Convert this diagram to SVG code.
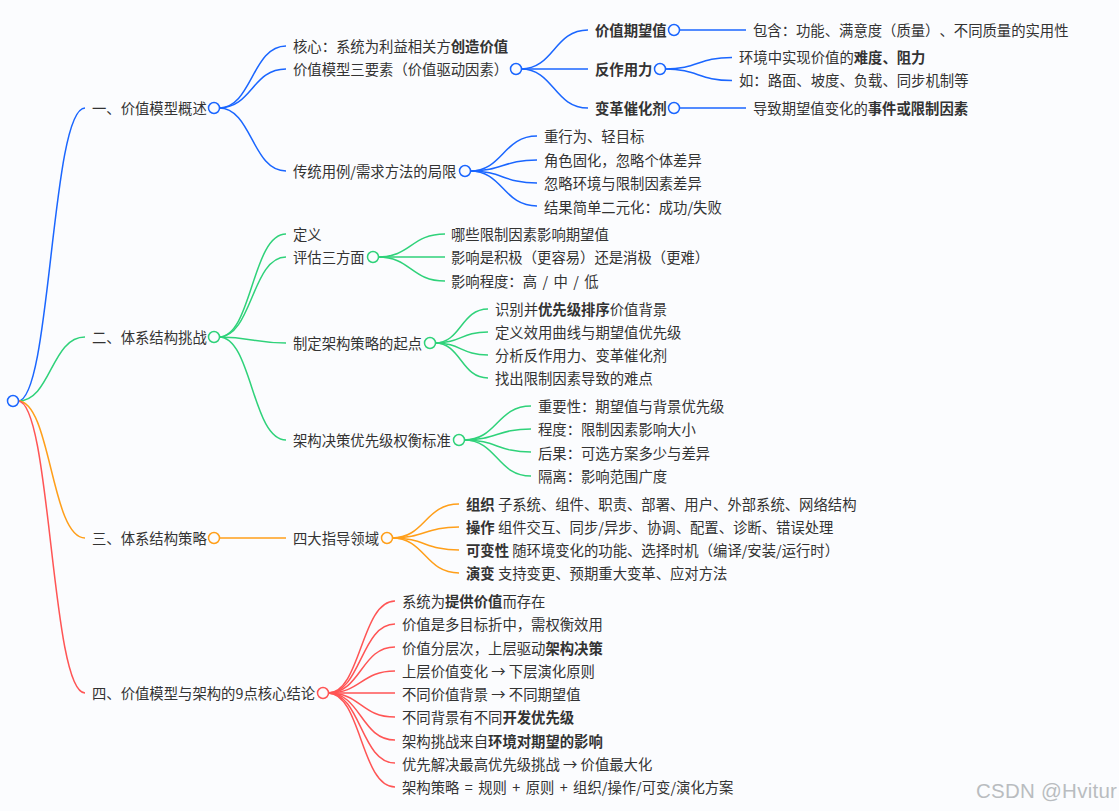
<svg xmlns="http://www.w3.org/2000/svg" width="1119" height="811" viewBox="0 0 1119 811">
<style>
text{font-family:"Noto Sans CJK SC","Liberation Sans",sans-serif;font-size:14.35px;fill:#333;text-spacing-trim:space-all;transform:translateY(.8px)}
tspan.b,text.b{font-weight:700}
text.ws{word-spacing:2.2px}
path{fill:none;stroke-width:1.5}
circle{fill:#fbfcfe;stroke-width:1.5}
.bl path,circle.bl{stroke:#1a66ff}
.gr path,circle.gr{stroke:#2fd27a}
.or path,circle.or{stroke:#ff9f1a}
.re path,circle.re{stroke:#ff5555}
text.wm{font-family:"Liberation Sans",sans-serif;font-size:20.5px;fill:#b9bcc0;letter-spacing:.25px;transform:none}
</style>
<rect width="1119" height="811" fill="#fbfcfe"/>
<g id="connectors">
<g class="bl">
<path d="M18 401C51 401 51 108 85 108"/>
<path d="M219 108C252 108 252 46 286 46"/>
<path d="M219 108C252 108 252 69 286 69"/>
<path d="M219 108C252 108 252 171 286 171"/>
<path d="M521 69C554 69 554 30 588 30"/>
<path d="M521 69H588"/>
<path d="M521 69C554 69 554 108 588 108"/>
<path d="M679 30H746"/>
<path d="M665 69C698 69 698 57.500 732 57.500"/>
<path d="M665 69C698 69 698 80.500 732 80.500"/>
<path d="M679 108H746"/>
<path d="M470 171C503 171 503 136 537 136"/>
<path d="M470 171C503 171 503 160 537 160"/>
<path d="M470 171C503 171 503 183 537 183"/>
<path d="M470 171C503 171 503 206 537 206"/>
</g>
<g class="gr">
<path d="M18 401C51 401 51 337 85 337"/>
<path d="M219 337C252 337 252 234 286 234"/>
<path d="M219 337C252 337 252 257 286 257"/>
<path d="M219 337C252 337 252 343 286 343"/>
<path d="M219 337C252 337 252 440 286 440"/>
<path d="M378 257C411 257 411 234 445 234"/>
<path d="M378 257H445"/>
<path d="M378 257C411 257 411 281 445 281"/>
<path d="M435 343C461 343 461 309 488 309"/>
<path d="M435 343C461 343 461 332 488 332"/>
<path d="M435 343C461 343 461 355 488 355"/>
<path d="M435 343C461 343 461 378 488 378"/>
<path d="M464 440C497 440 497 406 531 406"/>
<path d="M464 440C497 440 497 429 531 429"/>
<path d="M464 440C497 440 497 452 531 452"/>
<path d="M464 440C497 440 497 476 531 476"/>
</g>
<g class="or">
<path d="M18 401C51 401 51 538 85 538"/>
<path d="M219 538H286"/>
<path d="M392 538C425 538 425 504 459 504"/>
<path d="M392 538C425 538 425 527 459 527"/>
<path d="M392 538C425 538 425 550 459 550"/>
<path d="M392 538C425 538 425 573 459 573"/>
</g>
<g class="re">
<path d="M18 401C51 401 51 693 85 693"/>
<path d="M328 693C361 693 361 601 395 601"/>
<path d="M328 693C361 693 361 624 395 624"/>
<path d="M328 693C361 693 361 647 395 647"/>
<path d="M328 693C361 693 361 671 395 671"/>
<path d="M328 693H395"/>
<path d="M328 693C361 693 361 717 395 717"/>
<path d="M328 693C361 693 361 740 395 740"/>
<path d="M328 693C361 693 361 763 395 763"/>
<path d="M328 693C361 693 361 787 395 787"/>
</g>
</g>
<g id="root"><circle class="bl" cx="13" cy="401" r="5.500"/></g>
<g id="n1"><text x="92" y="113">一、价值模型概述</text><circle class="bl" cx="214" cy="108" r="5.500"/></g>
<g id="n1-1"><text x="293" y="51">核心：系统为利益相关方<tspan class="b">创造价值</tspan></text></g>
<g id="n1-2"><text x="293" y="74">价值模型三要素（价值驱动因素）</text><circle class="bl" cx="516" cy="69" r="5.500"/></g>
<g id="n1-2-1"><text class="b" x="595" y="35">价值期望值</text><circle class="bl" cx="674" cy="30" r="5.500"/></g>
<g id="n1-2-1-1"><text x="753" y="35">包含：功能、满意度（质量）、不同质量的实用性</text></g>
<g id="n1-2-2"><text class="b" x="595" y="74">反作用力</text><circle class="bl" cx="660" cy="69" r="5.500"/></g>
<g id="n1-2-2-1"><text x="739" y="62.500">环境中实现价值的<tspan class="b">难度、阻力</tspan></text></g>
<g id="n1-2-2-2"><text x="739" y="85.500">如：路面、坡度、负载、同步机制等</text></g>
<g id="n1-2-3"><text class="b" x="595" y="113">变革催化剂</text><circle class="bl" cx="674" cy="108" r="5.500"/></g>
<g id="n1-2-3-1"><text x="753" y="113">导致期望值变化的<tspan class="b">事件或限制因素</tspan></text></g>
<g id="n1-3"><text x="293" y="176">传统用例/需求方法的局限</text><circle class="bl" cx="465" cy="171" r="5.500"/></g>
<g id="n1-3-1"><text x="544" y="141">重行为、轻目标</text></g>
<g id="n1-3-2"><text x="544" y="165">角色固化，忽略个体差异</text></g>
<g id="n1-3-3"><text x="544" y="188">忽略环境与限制因素差异</text></g>
<g id="n1-3-4"><text x="544" y="212">结果简单二元化：成功/失败</text></g>
<g id="n2"><text x="92" y="342">二、体系结构挑战</text><circle class="gr" cx="214" cy="337" r="5.500"/></g>
<g id="n2-1"><text x="293" y="239">定义</text></g>
<g id="n2-2"><text x="293" y="262">评估三方面</text><circle class="gr" cx="373" cy="257" r="5.500"/></g>
<g id="n2-2-1"><text x="451" y="239">哪些限制因素影响期望值</text></g>
<g id="n2-2-2"><text x="451" y="262">影响是积极（更容易）还是消极（更难）</text></g>
<g id="n2-2-3"><text class="ws" x="451" y="286">影响程度：高 / 中 / 低</text></g>
<g id="n2-3"><text x="293" y="348">制定架构策略的起点</text><circle class="gr" cx="430" cy="343" r="5.500"/></g>
<g id="n2-3-1"><text x="495" y="314">识别并<tspan class="b">优先级排序</tspan>价值背景</text></g>
<g id="n2-3-2"><text x="495" y="337">定义效用曲线与期望值优先级</text></g>
<g id="n2-3-3"><text x="495" y="360">分析反作用力、变革催化剂</text></g>
<g id="n2-3-4"><text x="495" y="383">找出限制因素导致的难点</text></g>
<g id="n2-4"><text x="293" y="445">架构决策优先级权衡标准</text><circle class="gr" cx="459" cy="440" r="5.500"/></g>
<g id="n2-4-1"><text x="538" y="411">重要性：期望值与背景优先级</text></g>
<g id="n2-4-2"><text x="538" y="434">程度：限制因素影响大小</text></g>
<g id="n2-4-3"><text x="538" y="458">后果：可选方案多少与差异</text></g>
<g id="n2-4-4"><text x="538" y="481">隔离：影响范围广度</text></g>
<g id="n3"><text x="92" y="543">三、体系结构策略</text><circle class="or" cx="214" cy="538" r="5.500"/></g>
<g id="n3-1"><text x="293" y="543">四大指导领域</text><circle class="or" cx="387" cy="538" r="5.500"/></g>
<g id="n3-1-1"><text x="466" y="509"><tspan class="b">组织</tspan> 子系统、组件、职责、部署、用户、外部系统、网络结构</text></g>
<g id="n3-1-2"><text x="466" y="532"><tspan class="b">操作</tspan> 组件交互、同步/异步、协调、配置、诊断、错误处理</text></g>
<g id="n3-1-3"><text x="466" y="555"><tspan class="b">可变性</tspan> 随环境变化的功能、选择时机（编译/安装/运行时）</text></g>
<g id="n3-1-4"><text x="466" y="578"><tspan class="b">演变</tspan> 支持变更、预期重大变革、应对方法</text></g>
<g id="n4"><text x="92" y="698">四、价值模型与架构的9点核心结论</text><circle class="re" cx="323" cy="693" r="5.500"/></g>
<g id="n4-1"><text x="402" y="606">系统为<tspan class="b">提供价值</tspan>而存在</text></g>
<g id="n4-2"><text x="402" y="629">价值是多目标折中，需权衡效用</text></g>
<g id="n4-3"><text x="402" y="653">价值分层次，上层驱动<tspan class="b">架构决策</tspan></text></g>
<g id="n4-4"><text x="402" y="676">上层价值变化 → 下层演化原则</text></g>
<g id="n4-5"><text x="402" y="699">不同价值背景 → 不同期望值</text></g>
<g id="n4-6"><text x="402" y="722">不同背景有不同<tspan class="b">开发优先级</tspan></text></g>
<g id="n4-7"><text x="402" y="746">架构挑战来自<tspan class="b">环境对期望的影响</tspan></text></g>
<g id="n4-8"><text x="402" y="769">优先解决最高优先级挑战 → 价值最大化</text></g>
<g id="n4-9"><text class="ws" x="402" y="792">架构策略 = 规则 + 原则 + 组织/操作/可变/演化方案</text></g>
<text class="wm" x="976" y="798">CSDN @Hvitur</text>
</svg>
